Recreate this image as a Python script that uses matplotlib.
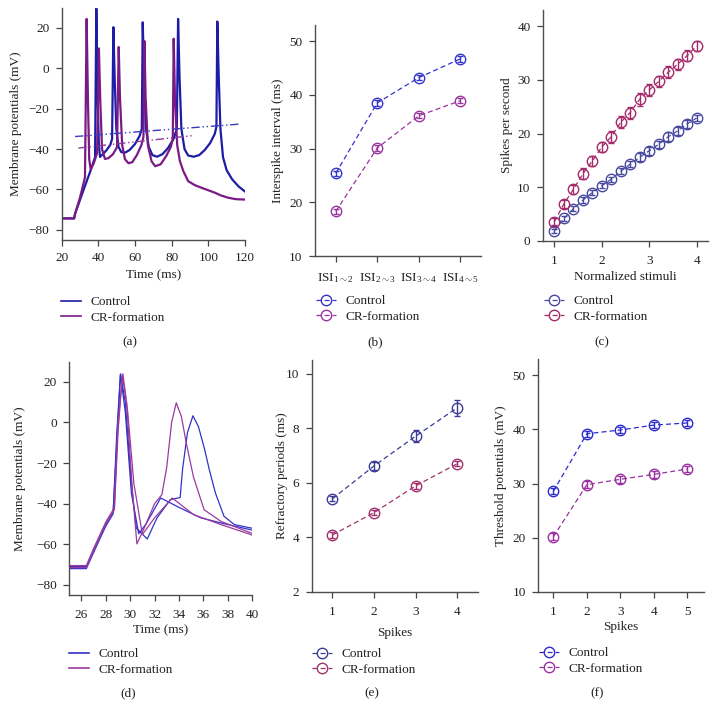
import matplotlib
matplotlib.use('Agg')
import matplotlib.pyplot as plt
from matplotlib.lines import Line2D

plt.rcParams['font.family'] = ['Liberation Serif', 'DejaVu Serif']
plt.rcParams['mathtext.fontset'] = 'custom'
plt.rcParams['mathtext.rm'] = 'Liberation Serif'
plt.rcParams['mathtext.it'] = 'Liberation Serif:italic'
plt.rcParams['font.size'] = 9.5
plt.rcParams['text.color'] = '#222222'
plt.rcParams['axes.labelcolor'] = '#222222'
plt.rcParams['xtick.color'] = '#444444'
plt.rcParams['ytick.color'] = '#444444'
plt.rcParams['xtick.labelcolor'] = '#222222'
plt.rcParams['ytick.labelcolor'] = '#222222'

# ---------------- data ----------------
# (a) membrane potential traces (keypoints)
a_ctrl_t = [20, 26.8, 27.3, 32, 36, 38.2, 38.9, 39.6, 40.3, 40.9, 42.5, 44.5, 46.5, 47.5, 48.2, 48.9,
            49.8, 51, 52.5, 54.5, 57, 60, 62.5, 63.7, 64.2, 65.0, 66, 67.5, 69.5, 72, 75, 78, 81,
            82.8, 83.5, 84.3, 85.3, 87, 89, 92, 95, 98, 101, 103.5, 104.4, 104.9, 105.7, 106.6,
            108, 110, 113, 116.5, 120]
a_ctrl_v = [-74.3, -74.3, -72, -60, -50, -44, 29.5, -15, -38, -43.9, -42.5, -40.5, -38, -35, 20.3, -5,
            -30, -39, -41.5, -41.8, -40.5, -37.5, -33.5, -30, 22.7, -5, -30, -39, -43, -43.8, -42.5,
            -39.5, -35, -30, 24.4, -5, -30, -40, -43.2, -43.8, -43, -40.5, -37, -32.5, -29, 23.1, -5,
            -30, -44, -50.5, -55, -58.5, -61]
a_cr_t = [20, 26.8, 27.3, 30, 32.7, 33.6, 34.3, 35.0, 35.8, 37.5, 39.3, 40.3, 41.0, 42, 43.6, 45.5,
          48, 50.2, 51.1, 51.8, 53, 54.5, 56.4, 58.5, 61, 63.5, 64.6, 65.1, 65.8, 67, 69, 71, 74,
          77, 79.5, 80.6, 81.1, 81.8, 83, 84.5, 86.4, 89, 92.5, 96.4, 103.6, 107, 110.9, 115, 120]
a_cr_v = [-74.3, -74.3, -72, -64, -54, 24.4, -15, -45, -50, -47, -42, 9.8, -15, -40, -44.9, -44.5,
          -42.5, -39, 10.5, -15, -38, -45, -47, -46.5, -43, -38, -34, 13.5, -15, -38, -46, -48.5,
          -47.5, -43.5, -39, -35, 14.6, -15, -38, -46, -51, -55.9, -57.8, -59.2, -61.6, -63, -64.1,
          -64.8, -65]
a_ctrl_thr_t = [27.3, 116.4]
a_ctrl_thr_v = [-33.8, -27.7]
a_cr_thr_t = [29.1, 91.8]
a_cr_thr_v = [-39.5, -33.3]

# (b) interspike intervals
isi_labels = [r'ISI$_{1{\sim}2}$', r'ISI$_{2{\sim}3}$', r'ISI$_{3{\sim}4}$', r'ISI$_{4{\sim}5}$']
b_ctrl = [25.4, 38.5, 43.2, 46.7]
b_ctrl_err = [0.5, 0.5, 0.5, 0.5]
b_cr = [18.3, 30.1, 36.1, 38.9]
b_cr_err = [0.5, 0.5, 0.5, 0.5]

# (c) spikes per second vs normalized stimuli
c_x = [1.0, 1.2, 1.4, 1.6, 1.8, 2.0, 2.2, 2.4, 2.6, 2.8, 3.0, 3.2, 3.4, 3.6, 3.8, 4.0]
c_ctrl = [1.9, 4.2, 6.0, 7.6, 9.0, 10.3, 11.5, 13.0, 14.3, 15.6, 16.8, 18.0, 19.4, 20.5, 21.8, 22.9]
c_ctrl_err = [0.4, 0.5, 0.5, 0.5, 0.5, 0.5, 0.5, 0.6, 0.6, 0.7, 0.7, 0.7, 0.8, 0.8, 0.7, 0.6]
c_cr = [3.6, 6.9, 9.6, 12.5, 14.9, 17.5, 19.4, 22.1, 23.9, 26.4, 28.1, 29.7, 31.4, 32.9, 34.5, 36.3]
c_cr_err = [0.6, 0.8, 0.9, 1.0, 1.0, 1.0, 1.1, 1.1, 1.1, 1.2, 1.1, 1.0, 1.1, 1.0, 1.0, 0.9]

# (d) membrane potential traces, zoomed
d_ctrl1_t = [25, 26.4, 27.0, 28.0, 28.6, 28.9, 29.2, 29.6, 30.1, 30.5, 31.4, 32.2, 33.3, 34.1, 34.3,
             34.7, 35.15, 35.6, 36.1, 36.5, 37.0, 37.7, 38.55, 39.9, 40]
d_ctrl1_v = [-71, -71, -63, -50, -44, -10, 24, 10, -30, -52, -57.4, -47, -38, -37, -23,
             -5, 3.3, -2, -13, -23.4, -34.8, -46.2, -50.3, -52, -52]
d_ctrl2_t = [25, 26.4, 27.0, 28.0, 28.6, 28.9, 29.2, 29.6, 30.1, 30.7, 31.3, 32.5, 34.1, 35.8, 38.0, 40]
d_ctrl2_v = [-72, -72, -64, -51, -45, -5, 23.5, 5, -35, -54.8, -50, -37.2, -42.1, -47, -50.3, -53]
d_cr1_t = [25, 26.4, 27.0, 28.0, 28.7, 29.0, 29.35, 29.7, 30.2, 30.55, 31.3, 32.0, 32.6, 33.0, 33.4,
           33.78, 34.2, 34.6, 35.2, 36.07, 37.45, 39.9, 40]
d_cr1_v = [-71.5, -71.5, -63, -50, -43, -5, 23.5, 10, -35, -59.8, -50, -40, -35.6, -22, 0,
           9.7, 3, -10, -27, -43, -48.7, -54.4, -54.5]
d_cr2_t = [25, 26.4, 27.0, 28.0, 28.7, 29.0, 29.4, 29.8, 30.3, 31.0, 32.0, 33.45, 35.2, 37.45, 39.9, 40]
d_cr2_v = [-70.5, -70.5, -62, -49, -42, 0, 24, 5, -30, -55.2, -47, -37.2, -45.4, -50.3, -55.2, -55.5]

# (e) refractory periods
e_x = [1, 2, 3, 4]
e_ctrl = [5.42, 6.62, 7.71, 8.75]
e_ctrl_err = [0.1, 0.15, 0.22, 0.3]
e_cr = [4.09, 4.91, 5.89, 6.70]
e_cr_err = [0.1, 0.08, 0.1, 0.1]

# (f) threshold potentials
f_x = [1, 2, 3, 4, 5]
f_ctrl = [28.6, 39.2, 39.9, 40.8, 41.2]
f_ctrl_err = [0.6, 0.6, 0.6, 0.6, 0.6]
f_cr = [20.2, 29.8, 30.8, 31.7, 32.7]
f_cr_err = [0.6, 0.6, 0.6, 0.6, 0.6]

legend_labels = ['Control', 'CR-formation']

# ---------------- figure ----------------
W, H = 717, 720
fig = plt.figure(figsize=(W / 100, H / 100), dpi=100)


def px_axes(l, t, r, b):
    return fig.add_axes([l / W, 1 - b / H, (r - l) / W, (b - t) / H])


def style(ax, xpad=5):
    for s in ['top', 'right']:
        ax.spines[s].set_visible(False)
    for s in ['left', 'bottom']:
        ax.spines[s].set_color('#4d4d4d')
        ax.spines[s].set_linewidth(1.0)
    ax.tick_params(direction='out', length=4, width=0.9, labelsize=9.5)
    ax.tick_params(axis='x', pad=xpad)
    ax.tick_params(axis='y', pad=5)


def add_legend(ax, handles, x, y, hl=1.5, htp=0.7):
    ax.legend(handles, legend_labels, loc='upper left', bbox_to_anchor=(x / W, 1 - y / H),
              bbox_transform=fig.transFigure, frameon=False, borderpad=0, borderaxespad=0,
              handlelength=hl, handletextpad=htp, labelspacing=0.25, fontsize=9.5)


DASH = (0, (4, 2.5))


def err_series(ax, x, y, e, color):
    ax.errorbar(x, y, yerr=e, color=color, ls=DASH, lw=0.9, marker='o', ms=7.5, mfc='none',
                mec=color, mew=1.0, elinewidth=1.0, capsize=2.2, capthick=1.0)


def marker_handle(color):
    return Line2D([], [], color=color, ls=DASH, lw=0.9, marker='o', ms=7.5, mfc='none', mec=color, mew=1.0)


# (a)
axa = px_axes(61.7, 8, 245, 240)
ca, pa = '#1c1ca6', '#7a1a84'
axa.plot(a_ctrl_t, a_ctrl_v, color=ca, lw=1.6, solid_joinstyle='round')
axa.plot(a_cr_t, a_cr_v, color=pa, lw=1.6, solid_joinstyle='round')
axa.plot(a_ctrl_thr_t, a_ctrl_thr_v, color='#3a3ac0', lw=1.0, ls=(0, (6, 2, 1, 2, 1, 2)))
axa.plot(a_cr_thr_t, a_cr_thr_v, color='#8a3a9a', lw=1.0, ls=(0, (6, 2, 1, 2, 1, 2)))
axa.set_xlim(20, 120)
axa.set_ylim(-85, 29.8)
axa.set_xticks([20, 40, 60, 80, 100, 120])
axa.set_yticks([-80, -60, -40, -20, 0, 20])
style(axa)
axa.set_xlabel('Time (ms)')
axa.set_ylabel('Membrane potentials (mV)')
axa.yaxis.set_label_coords(-0.215, 0.5)
axa.xaxis.set_label_coords(0.5, -0.125)
add_legend(axa, [Line2D([], [], color=ca, lw=1.2), Line2D([], [], color=pa, lw=1.2)], 61, 296)
fig.text(130 / W, 1 - 342 / H, '(a)', ha='center', va='center')

# (b)
axb = px_axes(315, 25, 481, 256)
cb, pb = '#3535cc', '#9a35a0'
err_series(axb, [1, 2, 3, 4], b_ctrl, b_ctrl_err, cb)
err_series(axb, [1, 2, 3, 4], b_cr, b_cr_err, pb)
axb.set_xlim(0.5, 4.5)
axb.set_ylim(10, 53)
axb.set_xticks([1, 2, 3, 4])
axb.set_xticklabels(isi_labels)
axb.set_yticks([10, 20, 30, 40, 50])
style(axb, xpad=7)
axb.set_ylabel('Interspike interval (ms)')
axb.yaxis.set_label_coords(-0.185, 0.5)
add_legend(axb, [marker_handle(cb), marker_handle(pb)], 316, 295)
fig.text(375 / W, 1 - 342 / H, '(b)', ha='center', va='center')

# (c)
axc = px_axes(543, 10, 708, 241)
cc, pc = '#4848a0', '#a52a6a'
err_series(axc, c_x, c_ctrl, c_ctrl_err, cc)
err_series(axc, c_x, c_cr, c_cr_err, pc)
axc.set_xlim(0.76, 4.24)
axc.set_ylim(0, 43)
axc.set_xticks([1, 2, 3, 4])
axc.set_yticks([0, 10, 20, 30, 40])
style(axc, xpad=6)
axc.set_xlabel('Normalized stimuli')
axc.set_ylabel('Spikes per second')
axc.yaxis.set_label_coords(-0.18, 0.5)
axc.xaxis.set_label_coords(0.5, -0.13)
add_legend(axc, [marker_handle(cc), marker_handle(pc)], 544, 295)
fig.text(602 / W, 1 - 342 / H, '(c)', ha='center', va='center')

# (d)
axd = px_axes(69.3, 362, 252, 595)
cd, pd_ = '#3232c8', '#9a3a9e'
axd.plot(d_ctrl1_t, d_ctrl1_v, color=cd, lw=0.9)
axd.plot(d_ctrl2_t, d_ctrl2_v, color=cd, lw=0.9)
axd.plot(d_cr1_t, d_cr1_v, color=pd_, lw=0.9)
axd.plot(d_cr2_t, d_cr2_v, color=pd_, lw=0.9)
axd.set_xlim(25, 40)
axd.set_ylim(-85, 29.8)
axd.set_xticks([26, 28, 30, 32, 34, 36, 38, 40])
axd.set_yticks([-80, -60, -40, -20, 0, 20])
style(axd, xpad=6)
axd.set_xlabel('Time (ms)')
axd.set_ylabel('Membrane potentials (mV)')
axd.yaxis.set_label_coords(-0.235, 0.5)
axd.xaxis.set_label_coords(0.5, -0.125)
add_legend(axd, [Line2D([], [], color=cd, lw=1.2), Line2D([], [], color=pd_, lw=1.2)], 69, 648)
fig.text(128 / W, 1 - 693 / H, '(d)', ha='center', va='center')

# (e)
axe = px_axes(311.7, 360, 478, 592)
ce, pe = '#3c3c96', '#a2306a'
err_series(axe, e_x, e_ctrl, e_ctrl_err, ce)
err_series(axe, e_x, e_cr, e_cr_err, pe)
axe.set_xlim(0.5, 4.5)
axe.set_ylim(2, 10.5)
axe.set_xticks([1, 2, 3, 4])
axe.set_yticks([2, 4, 6, 8, 10])
style(axe, xpad=6)
axe.set_xlabel('Spikes')
axe.set_ylabel('Refractory periods (ms)')
axe.yaxis.set_label_coords(-0.14, 0.5)
axe.xaxis.set_label_coords(0.5, -0.15)
add_legend(axe, [marker_handle(ce), marker_handle(pe)], 312, 648)
fig.text(372 / W, 1 - 693 / H, '(e)', ha='center', va='center')

# (f)
axf = px_axes(538.3, 359, 704, 592)
cf, pf = '#2c2cd0', '#9a30a2'
err_series(axf, f_x, f_ctrl, f_ctrl_err, cf)
err_series(axf, f_x, f_cr, f_cr_err, pf)
axf.set_xlim(0.55, 5.5)
axf.set_ylim(10, 53)
axf.set_xticks([1, 2, 3, 4, 5])
axf.set_yticks([10, 20, 30, 40, 50])
style(axf, xpad=6)
axf.set_xlabel('Spikes')
axf.set_ylabel('Threshold potentials (mV)')
axf.yaxis.set_label_coords(-0.19, 0.5)
axf.xaxis.set_label_coords(0.5, -0.125)
add_legend(axf, [marker_handle(cf), marker_handle(pf)], 539, 647)
fig.text(597 / W, 1 - 693 / H, '(f)', ha='center', va='center')

fig.savefig('out.png', dpi=100, facecolor='white')
